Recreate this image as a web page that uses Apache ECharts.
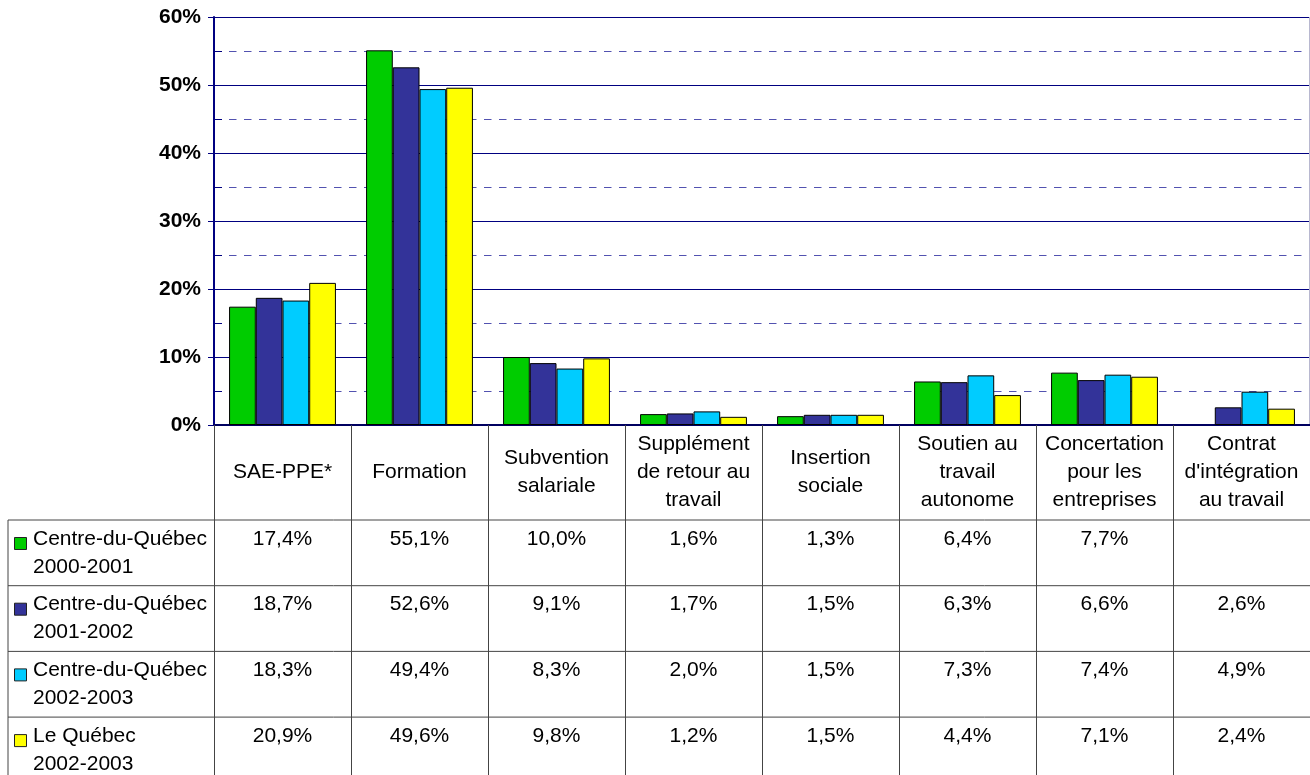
<!DOCTYPE html>
<html><head><meta charset="utf-8">
<script src="https://cdn.jsdelivr.net/npm/echarts@6/dist/echarts.min.js"></script>
<style>html,body{margin:0;padding:0;background:#fff}#c{width:1310px;height:775px}</style>
</head><body><div id="c"></div>
<script>
const categories = ['SAE-PPE*', 'Formation', 'Subvention\nsalariale', 'Supplément\nde retour au\ntravail', 'Insertion\nsociale', 'Soutien au\ntravail\nautonome', 'Concertation\npour les\nentreprises', "Contrat\nd'intégration\nau travail"];
const seriesNames = ['Centre-du-Québec 2000-2001', 'Centre-du-Québec 2001-2002', 'Centre-du-Québec 2002-2003', 'Le Québec 2002-2003'];
const rowLabels = ['Centre-du-Québec\n2000-2001', 'Centre-du-Québec\n2001-2002', 'Centre-du-Québec\n2002-2003', 'Le Québec\n2002-2003'];
const cq2000_2001 = [17.4, 55.1, 10.0, 1.6, 1.3, 6.4, 7.7, null];
const cq2001_2002 = [18.7, 52.6, 9.1, 1.7, 1.5, 6.3, 6.6, 2.6];
const cq2002_2003 = [18.3, 49.4, 8.3, 2.0, 1.5, 7.3, 7.4, 4.9];
const qc2002_2003 = [20.9, 49.6, 9.8, 1.2, 1.5, 4.4, 7.1, 2.4];
const yMin = 0, yMax = 60, yStep = 10;

const allSeries = [cq2000_2001, cq2001_2002, cq2002_2003, qc2002_2003];
const colors = ['#00CC00', '#333399', '#00CCFF', '#FFFF00'];
const FF = '"Liberation Sans", Arial, sans-serif';
const NAVY = '#000080';

const chart = echarts.init(document.getElementById('c'), null, {renderer: 'canvas'});
chart.setOption({
  animation: false,
  backgroundColor: '#fff',
  grid: {left: 214, right: 0, top: 17, bottom: 350, containLabel: false},
  xAxis: {
    type: 'category', data: categories,
    axisLine: {show: true, lineStyle: {color: '#000060', width: 2}},
    axisTick: {show: true, interval: 0, length: 350, lineStyle: {color: '#444', width: 1}},
    axisLabel: {show: false},
    splitLine: {show: false}
  },
  yAxis: [{
    type: 'value', min: yMin, max: yMax, interval: yStep,
    axisLine: {show: true, lineStyle: {color: NAVY, width: 2}},
    axisTick: {show: true, length: 6, lineStyle: {color: NAVY}},
    axisLabel: {formatter: '{value}%', fontWeight: 'bold', fontSize: 21, color: '#000', margin: 13, fontFamily: FF},
    splitLine: {show: true, lineStyle: {color: NAVY, width: 1}},
    minorTick: {show: false, splitNumber: 2},
    minorSplitLine: {show: true, lineStyle: {color: '#5252b0', width: 1, type: [7.5, 7.5]}}
  }, {
    type: 'value', min: yMin, max: yMax, interval: yStep, position: 'left', offset: 0,
    axisLine: {show: false},
    axisTick: {show: false, inside: true},
    axisLabel: {show: false},
    splitLine: {show: false},
    minorTick: {show: true, splitNumber: 2, length: 8, lineStyle: {color: NAVY}},
    minorSplitLine: {show: false}
  }],
  series: allSeries.map((d, i) => ({
    name: seriesNames[i], type: 'bar', data: d, yAxisIndex: 0,
    barGap: '0%', barCategoryGap: '22%',
    itemStyle: {color: colors[i], borderColor: '#000', borderWidth: 1},
    silent: true
  }))
});

const rowTops = [520, 585.7, 651.4, 717.1];
const headerMid = 472;
const g = [];
g.push({type: 'line', shape: {x1: 1309.5, y1: 17, x2: 1309.5, y2: 425}, style: {stroke: '#b8b8d0', lineWidth: 1}, silent: true});
rowTops.forEach(y => g.push({type: 'line', shape: {x1: 8, y1: y, x2: 1310, y2: y}, style: {stroke: '#444', lineWidth: 1}, silent: true}));
g.push({type: 'line', shape: {x1: 8, y1: 520, x2: 8, y2: 775}, style: {stroke: '#444', lineWidth: 1}, silent: true});
const fmt = v => v == null ? '' : v.toFixed(1).replace('.', ',') + '%';
categories.forEach((c, i) => {
  const x = chart.convertToPixel({xAxisIndex: 0}, i);
  g.push({type: 'text', x: x, y: headerMid, silent: true,
    style: {text: c, fill: '#000', fontSize: 21, fontFamily: FF, lineHeight: 28, align: 'center', verticalAlign: 'middle', textAlign: 'center', textVerticalAlign: 'middle'}});
  allSeries.forEach((d, r) => {
    g.push({type: 'text', x: x, y: rowTops[r] + 5, silent: true,
      style: {text: fmt(d[i]), fill: '#000', fontSize: 21, fontFamily: FF, lineHeight: 28, align: 'center', verticalAlign: 'top', textAlign: 'center', textVerticalAlign: 'top'}});
  });
});
rowLabels.forEach((t, r) => {
  g.push({type: 'rect', shape: {x: 14.5, y: rowTops[r] + 17.5, width: 12, height: 12}, style: {fill: colors[r], stroke: '#222', lineWidth: 1}, silent: true});
  g.push({type: 'text', x: 33, y: rowTops[r] + 5, silent: true,
    style: {text: t, fill: '#000', fontSize: 21, fontFamily: FF, lineHeight: 28, align: 'left', verticalAlign: 'top', textAlign: 'left', textVerticalAlign: 'top'}});
});
chart.setOption({graphic: g});
</script>
</body></html>
